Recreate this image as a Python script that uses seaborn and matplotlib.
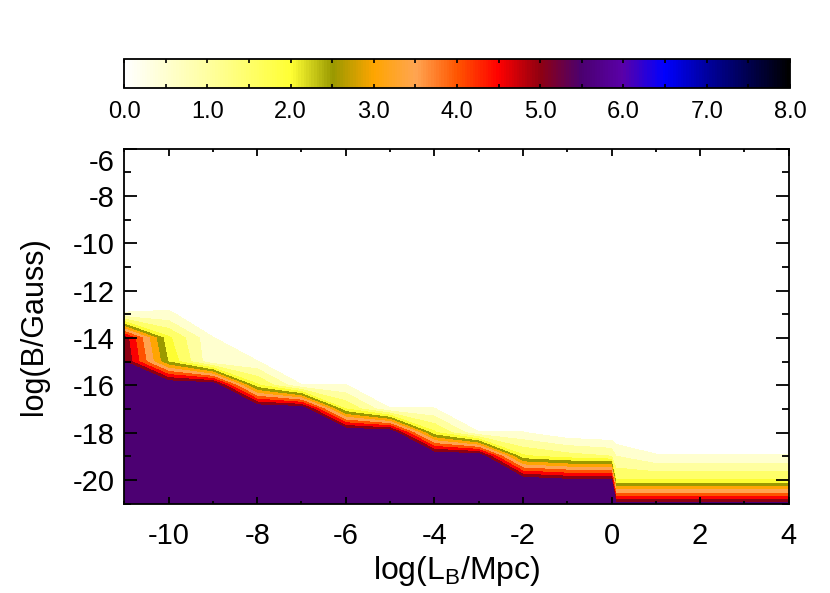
import numpy as np
import matplotlib
matplotlib.use("Agg")          # no display in the sandbox
import matplotlib.pyplot as plt
from matplotlib.colors import LinearSegmentedColormap, Normalize
from matplotlib.cm import ScalarMappable
from matplotlib.ticker import MultipleLocator
import seaborn as sns

# ─────────────────────────────────────────────
# Data
# ─────────────────────────────────────────────
log_L = [-11, -10, -9, -8, -7, -6, -5, -4, -3, -2, -1, 0, 0.1, 1, 2, 3, 4]
log_B = [-21, -20, -19, -18, -17, -16, -15, -14, -13,
         -12, -11, -10, -9, -8, -7, -6]

row_m21 = [8, 8, 8, 8, 8, 8, 8, 8, 8, 8, 8, 8, 5.6, 5.6, 5.6, 5.6, 5.6]
row_m20 = [8, 8, 8, 8, 8, 8, 8, 8, 8, 5.92, 5.6, 5.6, 2.0, 2.0, 2.0, 2.0, 2.0]
row_m19 = [8, 8, 8, 8, 8, 8, 8, 6.2, 6.1, 2.1, 1.73, 1.5, 1.0, 0.55, 0.55, 0.55, 0.55]
row_m18 = [8, 8, 8, 8, 8, 6.27, 6.1, 2.1, 0.52, 0.52, 0.1, 0, 0, 0, 0, 0, 0]
row_m17 = [8, 8, 8, 6.2, 6.06, 2.0, 0.52, 0.52, 0, 0, 0, 0, 0, 0, 0, 0, 0]
row_m16 = [8, 6.2, 6.1, 2.1, 0.52, 0.52, 0, 0, 0, 0, 0, 0, 0, 0, 0, 0, 0]
row_m15 = [5.52, 2.45, 0.55, 0.52, 0, 0, 0, 0, 0, 0, 0, 0, 0, 0, 0, 0, 0]
row_m14 = [5.3, 2.1, 0.52, 0, 0, 0, 0, 0, 0, 0, 0, 0, 0, 0, 0, 0, 0]
row_m13 = [0.55, 0.6, 0, 0, 0, 0, 0, 0, 0, 0, 0, 0, 0, 0, 0, 0, 0]
row_empty = [0] * len(log_L)

# colour table of the bar on top (value, colour)
cbar_values = [0.0, 1.0, 2.0, 2.5, 3.0, 3.5, 4.0, 4.5, 5.0, 5.5, 6.0, 6.5, 7.0, 8.0]
cbar_colors = ["#FFFFFF", "#FFFFA0", "#FFFF33", "#999900", "#FFA500", "#FFA552",
               "#FF5500", "#FF0000", "#900010", "#4B0070", "#5A00A8", "#0000FF",
               "#0000A0", "#000000"]
fill_levels = [0.0, 0.5, 1.0, 1.5, 2.0, 2.5, 3.0, 3.5, 4.0, 4.5, 5.0, 5.5]
cbar_labels = ["0.0", "1.0", "2.0", "3.0", "4.0", "5.0", "6.0", "7.0", "8.0"]

# ─────────────────────────────────────────────
# Style
# ─────────────────────────────────────────────
sns.set_theme(style="ticks")
plt.rcParams["font.family"] = ["Liberation Sans", "DejaVu Sans"]
plt.rcParams["mathtext.fontset"] = "custom"
plt.rcParams["mathtext.rm"] = "Liberation Sans"
plt.rcParams["mathtext.it"] = "Liberation Sans:italic"
plt.rcParams["axes.unicode_minus"] = False
plt.rcParams["axes.linewidth"] = 1.3
plt.rcParams["axes.edgecolor"] = "black"
plt.rcParams["axes.labelcolor"] = "black"
plt.rcParams["text.color"] = "black"
plt.rcParams["xtick.color"] = "black"
plt.rcParams["ytick.color"] = "black"
plt.rcParams["axes.axisbelow"] = False

Z = np.array([row_m21, row_m20, row_m19, row_m18, row_m17, row_m16, row_m15,
              row_m14, row_m13] + [row_empty] * 7)

cmap = LinearSegmentedColormap.from_list(
    "idl_heat", list(zip(np.array(cbar_values) / 8.0, cbar_colors)))
band_colors = [cmap(v / 8.0) for v in fill_levels]

fig = plt.figure(figsize=(8.30, 5.93), dpi=100)
ax = fig.add_axes([0.1498, 0.1509, 0.8004, 0.5983])
cax = fig.add_axes([0.1494, 0.8511, 0.8024, 0.0489])

ax.contourf(log_L, log_B, Z, levels=fill_levels + [100], colors=band_colors,
            antialiased=False)
ax.set_axisbelow(False)
ax.set_xlim(-11, 4)
ax.set_ylim(-21, -6)

ax.set_xticks([-10, -8, -6, -4, -2, 0, 2, 4])
ax.set_yticks([-20, -18, -16, -14, -12, -10, -8, -6])
ax.xaxis.set_minor_locator(MultipleLocator(1))
ax.yaxis.set_minor_locator(MultipleLocator(1))
ax.tick_params(axis="both", which="both", direction="in", top=True, right=True,
               labelsize=21, color="black", width=1.3)
ax.tick_params(axis="x", which="major", length=5, pad=13)
ax.tick_params(axis="x", which="minor", length=2.5)
ax.tick_params(axis="y", which="major", length=9.5, pad=7)
ax.tick_params(axis="y", which="minor", length=5)
for lab in ax.get_yticklabels():
    if lab.get_text() == "-6":
        lab.set_va("top")

ax.set_xlabel(r"log(L$_{\rm B}$/Mpc)", fontsize=23, labelpad=3)
ax.set_ylabel("log(B/Gauss)", fontsize=22, labelpad=17)

# colour bar
cb = fig.colorbar(ScalarMappable(norm=Normalize(0, 8), cmap=cmap), cax=cax,
                  orientation="horizontal")
cb.outline.set_linewidth(1.3)
cax.set_axisbelow(False)
cax.set_xticks(np.arange(0, 8.01, 1.0))
cax.set_xticklabels(cbar_labels)
cax.xaxis.set_minor_locator(MultipleLocator(0.5))
cax.tick_params(axis="x", which="both", direction="in", top=True, bottom=True,
                length=3, width=1.2, labelsize=17, pad=9)

fig.savefig("out.png", dpi=100)
plt.close()
